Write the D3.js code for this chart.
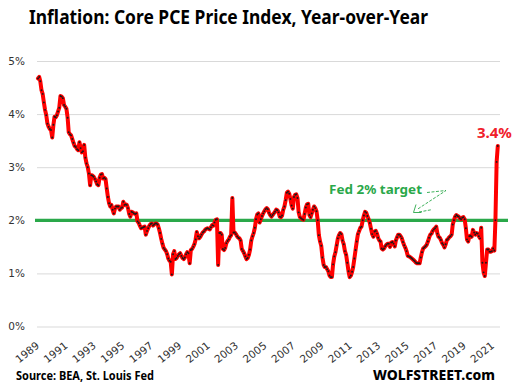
<!DOCTYPE html>
<html><head><meta charset="utf-8">
<script src="https://cdn.jsdelivr.net/npm/d3@7"></script>
<style>body{margin:0;background:#fff;} svg{display:block;}</style>
</head><body>
<svg id="c" width="514" height="392"></svg>
<script>
// ---- data (monthly core PCE price index, % change year-over-year, Jan 1989 .. May 2021)
const startMonth = [1989, 0];
const corePceYoY = [
  4.67,4.70,4.62,4.45,4.38,4.22,4.08,3.98,3.82,3.76,3.72,3.70, // 1989
  3.56,3.80,3.95,3.94,3.98,4.05,4.12,4.34,4.33,4.30,4.17,4.14, // 1990
  4.10,3.93,3.66,3.62,3.60,3.53,3.46,3.40,3.38,3.34,3.32,3.47, // 1991
  3.36,3.28,3.30,3.42,3.18,3.07,3.00,2.88,2.66,2.85,2.84,2.82, // 1992
  2.78,2.73,2.68,2.66,2.80,2.86,2.87,2.79,2.80,2.78,2.60,2.44, // 1993
  2.32,2.26,2.29,2.20,2.13,2.22,2.26,2.26,2.26,2.20,2.23,2.24, // 1994
  2.35,2.29,2.30,2.29,2.23,2.12,2.07,2.16,2.15,2.13,2.12,2.13, // 1995
  1.98,1.95,1.90,1.85,1.86,1.87,1.88,1.73,1.80,1.85,1.90,1.93, // 1996
  1.94,1.90,1.92,1.94,1.94,1.92,1.85,1.76,1.65,1.56,1.48,1.45, // 1997
  1.42,1.36,1.28,1.24,1.22,0.98,1.36,1.42,1.27,1.29,1.33,1.36, // 1998
  1.38,1.33,1.29,1.27,1.30,1.36,1.40,1.38,1.19,1.44,1.46,1.50, // 1999
  1.55,1.64,1.78,1.70,1.66,1.69,1.73,1.77,1.79,1.82,1.84,1.85, // 2000
  1.84,1.83,1.87,1.91,1.90,1.96,2.01,2.02,1.16,1.76,1.76,1.73, // 2001
  1.46,1.44,1.48,1.57,1.61,1.64,1.69,1.72,2.42,1.77,1.77,1.74, // 2002
  1.70,1.67,1.66,1.62,1.46,1.42,1.38,1.32,1.27,1.29,1.35,1.45, // 2003
  1.62,1.70,1.76,1.86,2.02,2.11,2.13,1.96,2.02,2.08,2.13,2.17, // 2004
  2.21,2.23,2.21,2.14,2.10,2.07,2.10,2.13,2.16,2.20,2.19,2.15, // 2005
  2.07,2.06,2.09,2.20,2.26,2.38,2.52,2.54,2.50,2.40,2.28,2.22, // 2006
  2.44,2.48,2.49,2.42,2.15,2.06,2.04,2.02,2.01,2.12,2.24,2.30, // 2007
  2.31,2.10,2.06,2.13,2.20,2.26,2.23,2.17,2.00,1.72,1.60,1.52, // 2008
  1.30,1.16,1.12,1.12,1.08,1.04,0.96,0.93,0.93,1.17,1.32,1.40, // 2009
  1.53,1.66,1.72,1.76,1.74,1.62,1.55,1.42,1.35,1.20,1.04,0.93, // 2010
  0.96,1.03,1.12,1.28,1.44,1.60,1.74,1.80,1.86,1.88,2.00,2.09, // 2011
  2.16,2.14,2.08,2.02,1.95,1.84,1.74,1.69,1.79,1.80,1.75,1.67, // 2012
  1.62,1.60,1.47,1.45,1.47,1.51,1.54,1.56,1.56,1.50,1.58,1.59, // 2013
  1.56,1.51,1.62,1.68,1.73,1.73,1.70,1.66,1.59,1.53,1.48,1.42, // 2014
  1.33,1.32,1.31,1.29,1.27,1.25,1.23,1.20,1.19,1.19,1.19,1.30, // 2015
  1.40,1.47,1.49,1.51,1.54,1.60,1.67,1.73,1.75,1.80,1.83,1.85, // 2016
  1.88,1.75,1.69,1.67,1.63,1.57,1.54,1.49,1.55,1.63,1.65,1.68, // 2017
  1.70,1.73,1.92,2.00,2.07,2.10,2.08,2.07,2.04,2.02,2.05,2.06, // 2018
  2.02,1.85,1.64,1.60,1.70,1.71,1.69,1.82,1.77,1.73,1.76,1.75, // 2019
  1.70,1.66,1.86,1.20,1.02,0.95,1.20,1.45,1.45,1.41,1.41,1.42, // 2020
  1.47,1.43,2.00,3.10,3.40                                     // 2021
];
const tickYears = [1989,1991,1993,1995,1997,1999,2001,2003,2005,2007,2009,2011,2013,2015,2017,2019,2021];
const yTicks = [0,1,2,3,4,5];
const fedTarget = 2;
const titleText = "Inflation: Core PCE Price Index, Year-over-Year";
const targetLabel = "Fed 2% target";
const lastLabel = "3.4%";
const sourceText = "Source: BEA, St. Louis Fed";
const brandText = "WOLFSTREET.com";

// ---- build
const t0 = new Date(startMonth[0], startMonth[1], 1);
const series = corePceYoY.map((v, i) => ({date: d3.timeMonth.offset(t0, i), value: v}));

const svg = d3.select("#c");
const x = d3.scaleTime()
  .domain([series[0].date, series[series.length - 1].date])
  .range([38, 497.8]);
const y = d3.scaleLinear().domain([0, 5]).range([326.5, 61]);

// gridlines + y labels
const yAxis = d3.axisLeft(y).tickValues(yTicks).tickFormat(d => d + "%")
  .tickSize(-463).tickPadding(12);
const gy = svg.append("g").attr("transform", "translate(37,0)").call(yAxis);
gy.select(".domain").remove();
gy.selectAll(".tick line").attr("stroke", "#d9d9d9").attr("stroke-width", 1);
gy.selectAll(".tick text").attr("fill", "#333")
  .style("font-family", "'DejaVu Sans', sans-serif").style("font-size", "10.5px");

// x labels
const xAxis = d3.axisBottom(x).tickValues(tickYears.map(yr => new Date(yr, 0, 1)))
  .tickFormat(d3.timeFormat("%Y")).tickSize(0);
const gx = svg.append("g").attr("transform", "translate(0,347)").call(xAxis);
gx.select(".domain").remove();
gx.selectAll(".tick text")
  .attr("x", 0).attr("y", 0).attr("dy", 0)
  .attr("text-anchor", "end")
  .attr("transform", "translate(1.5,0) rotate(-38)")
  .attr("fill", "#333")
  .style("font-family", "'DejaVu Sans', sans-serif").style("font-size", "10.5px");

// Fed target line
svg.append("line")
  .attr("x1", 35).attr("x2", 508)
  .attr("y1", y(fedTarget)).attr("y2", y(fedTarget))
  .attr("stroke", "#2aa84a").attr("stroke-width", 3.2);

// data line
const line = d3.line().x(d => x(d.date)).y(d => y(d.value));
svg.append("path").datum(series)
  .attr("d", line).attr("fill", "none")
  .attr("stroke", "#ff0000").attr("stroke-width", 4)
  .attr("stroke-linejoin", "round").attr("stroke-linecap", "round");
svg.append("g").selectAll("circle").data(series).join("circle")
  .attr("cx", d => x(d.date)).attr("cy", d => y(d.value))
  .attr("r", 0.95).attr("fill", "#1a1a1a");

// title
svg.append("text").attr("x", 29).attr("y", 24)
  .attr("textLength", 399).attr("lengthAdjust", "spacingAndGlyphs")
  .style("font-family", "'Noto Sans', sans-serif").style("font-weight", 700)
  .style("font-size", "19px").attr("fill", "#000").text(titleText);

// annotations
svg.append("text").attr("x", 329).attr("y", 193.5)
  .attr("textLength", 93).attr("lengthAdjust", "spacingAndGlyphs")
  .style("font-family", "'Noto Sans', sans-serif").style("font-weight", 700)
  .style("font-size", "12.5px").attr("fill", "#2aa84a").text(targetLabel);

const arrow = svg.append("g").attr("fill", "none").attr("stroke", "#2aa84a")
  .attr("stroke-width", 0.9);
arrow.append("path").attr("d", "M427,192.5 L446,190.5 L417,209.5")
  .attr("stroke-dasharray", "3,1.5");
arrow.append("path").attr("d", "M419,212 L431,209.8").attr("stroke-dasharray", "3,1.5");
arrow.append("path").attr("d", "M416,204.5 L413.5,212.5 L421.5,212.5");

const last = series[series.length - 1];
svg.append("text").attr("x", x(last.date) + 14).attr("y", 137.5)
  .attr("text-anchor", "end")
  .style("font-family", "'Noto Sans', sans-serif").style("font-weight", 700)
  .style("font-size", "15px").attr("fill", "#f0202a").text(lastLabel);

// footer
svg.append("text").attr("x", 16).attr("y", 380)
  .attr("textLength", 138).attr("lengthAdjust", "spacingAndGlyphs")
  .style("font-family", "'Noto Sans', sans-serif").style("font-weight", 700)
  .style("font-size", "11.5px").attr("fill", "#000").text(sourceText);
svg.append("text").attr("x", 373).attr("y", 379.5)
  .attr("textLength", 122).attr("lengthAdjust", "spacingAndGlyphs")
  .style("font-family", "'Noto Sans', sans-serif").style("font-weight", 800)
  .style("font-size", "13.5px").attr("fill", "#000").text(brandText);
</script>
</body></html>
